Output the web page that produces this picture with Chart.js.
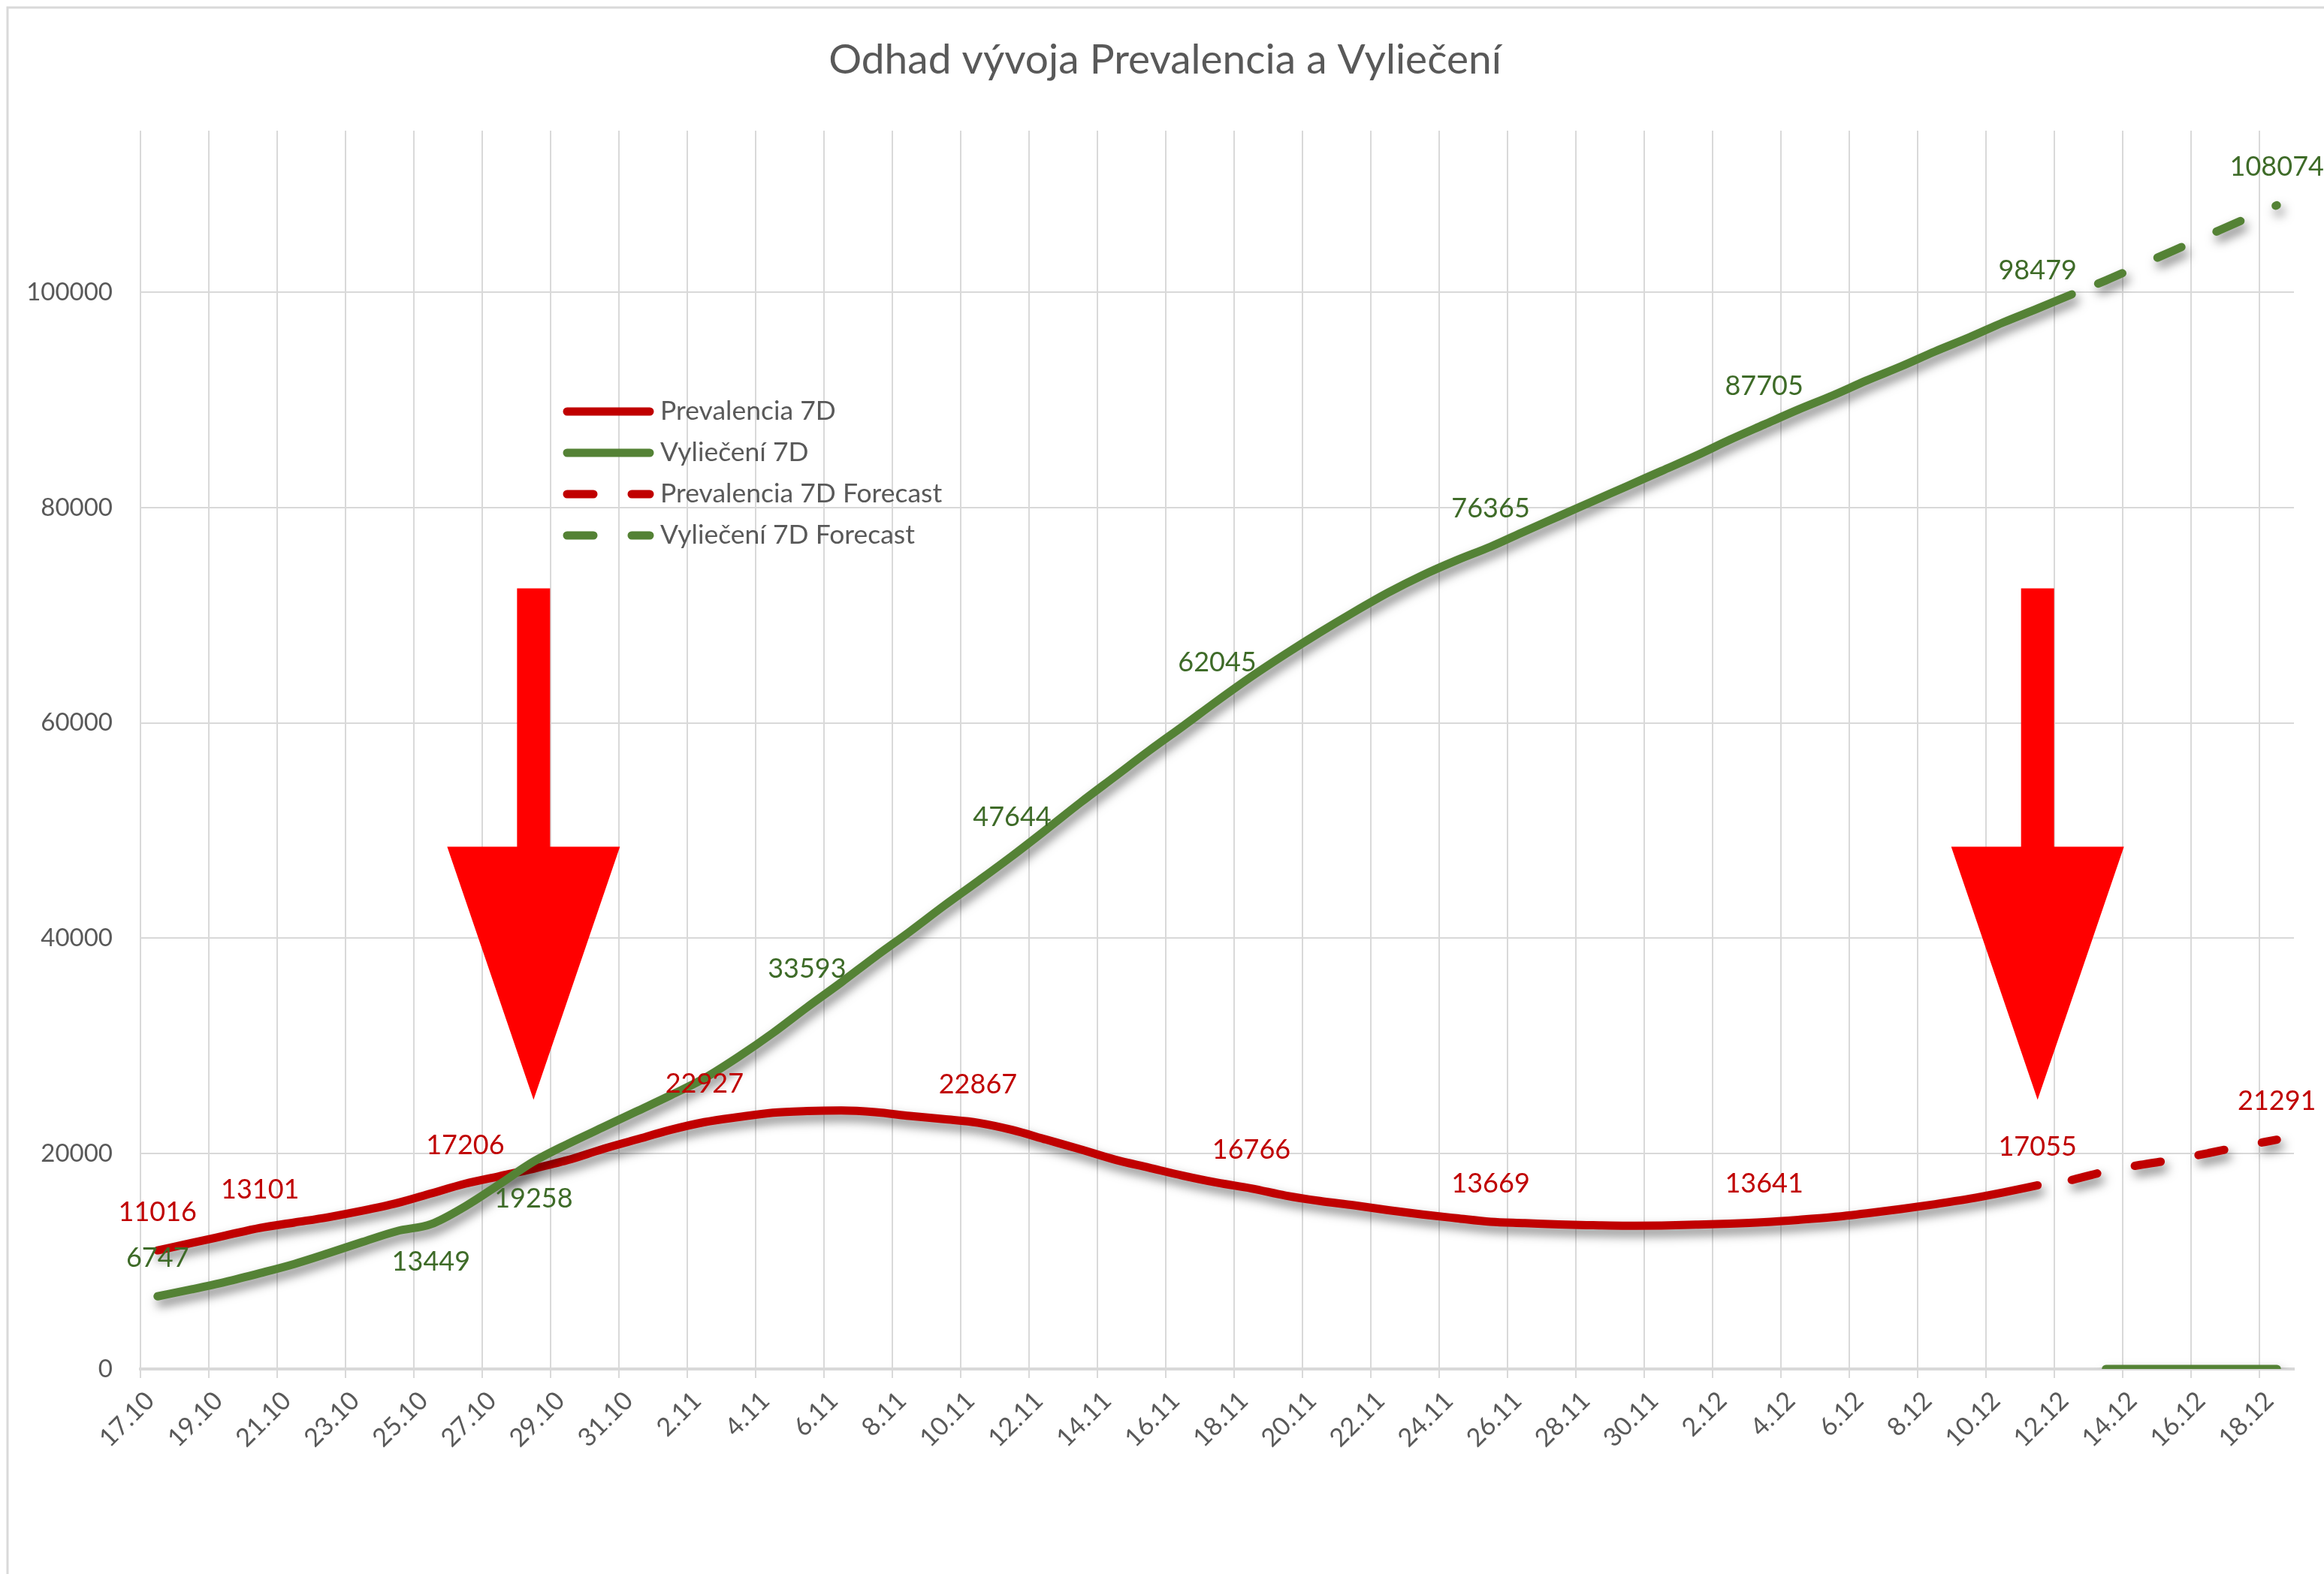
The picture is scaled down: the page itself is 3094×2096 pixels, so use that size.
<!DOCTYPE html>
<html>
<head>
<meta charset="utf-8">
<title>Odhad vývoja Prevalencia a Vyliečení</title>
<script src="https://cdn.jsdelivr.net/npm/chart.js@4.4.1/dist/chart.umd.min.js"></script>
<style>
  html, body { margin: 0; padding: 0; background: #fff; }
  #graf { display: block; }
</style>
</head>
<body>
<canvas id="graf" width="3094" height="2096"></canvas>
<script>
// dni na osi x
const dni = ['17.10','18.10','19.10','20.10','21.10','22.10','23.10','24.10','25.10','26.10','27.10','28.10','29.10','30.10','31.10',
  '1.11','2.11','3.11','4.11','5.11','6.11','7.11','8.11','9.11','10.11','11.11','12.11','13.11','14.11','15.11',
  '16.11','17.11','18.11','19.11','20.11','21.11','22.11','23.11','24.11','25.11','26.11','27.11','28.11','29.11','30.11',
  '1.12','2.12','3.12','4.12','5.12','6.12','7.12','8.12','9.12','10.12','11.12','12.12','13.12','14.12','15.12',
  '16.12','17.12','18.12'];

// Prevalencia 7D (17.10 - 11.12)
const prevalencia = [11016, 11700, 12400, 13101, 13600, 14100, 14700, 15400, 16300, 17206,
  17900, 18600, 19400, 20400, 21300, 22200, 22927, 23400, 23800, 23950,
  24000, 23850, 23500, 23200, 22867, 22200, 21300, 20400, 19450, 18700,
  17950, 17300, 16766, 16100, 15600, 15200, 14750, 14350, 14000, 13669,
  13550, 13420, 13350, 13300, 13320, 13400, 13500, 13641, 13850, 14100,
  14450, 14850, 15300, 15800, 16400, 17055];

// Vyliečení 7D (17.10 - 12.12)
const vylieceni = [6747, 7400, 8100, 8900, 9750, 10750, 11800, 12800, 13449, 15100,
  17150, 19258, 20900, 22400, 23900, 25400, 27000, 29000, 31200, 33593,
  35900, 38300, 40600, 43000, 45300, 47644, 50100, 52600, 55000, 57400,
  59700, 62045, 64300, 66400, 68400, 70300, 72100, 73700, 75100, 76365,
  77800, 79200, 80600, 82000, 83400, 84800, 86300, 87705, 89100, 90400,
  91800, 93100, 94500, 95800, 97200, 98479, 99800];
// od 13.12 su v stlpci Vyliečení nuly
const nulyOd = '13.12';
const vylieceniNuly = [0, 0, 0, 0, 0, 0];

// forecast od 12.12 do 18.12
const forecastOd = '12.12';
const prevalenciaForecast = [17550, 18350, 18950, 19450, 20050, 20700, 21291];
const vylieceniForecast = [99800, 101100, 102500, 103900, 105300, 106700, 108074];

// os y
const yTicky = [0, 20000, 40000, 60000, 80000, 100000];

// popisky hodnot
const popiskyPrevalencia = ['17.10', '20.10', '26.10', '2.11', '10.11', '18.11', '25.11', '3.12', '11.12'];
const popiskyVylieceni = ['17.10', '25.10', '28.10', '5.11', '11.11', '17.11', '25.11', '3.12', '11.12'];
const popiskyVylieceniPod = ['25.10', '28.10'];
const popiskyForecast = ['18.12'];

// sipky
const sipkyDni = ['28.10', '11.12'];

const NADPIS = 'Odhad vývoja Prevalencia a Vyliečení';
const CERVENA = '#C00000';
const ZELENA = '#548235';
const ZELENA_TEXT = '#3E6B28';
const SEDA = '#595959';
const MRIEZKA = '#D9D9D9';
const PISMO = 'Lato, "Open Sans", sans-serif';

const doDni = (arr, od) => {
  const start = od ? dni.indexOf(od) : 0;
  return dni.map((_, i) => (i >= start && i - start < arr.length) ? arr[i - start] : null);
};

// pozadie, ramik a nadpis
const ramik = {
  id: 'ramik',
  beforeDraw(chart) {
    const { ctx, width, height } = chart;
    ctx.save();
    ctx.fillStyle = '#fff';
    ctx.fillRect(0, 0, width, height);
    ctx.strokeStyle = MRIEZKA;
    ctx.lineWidth = 3;
    ctx.beginPath();
    ctx.moveTo(10, height);
    ctx.lineTo(10, 10);
    ctx.lineTo(width, 10);
    ctx.stroke();
    ctx.fillStyle = SEDA;
    ctx.font = '55px ' + PISMO;
    ctx.textAlign = 'center';
    ctx.textBaseline = 'middle';
    ctx.fillText(NADPIS, width / 2 + 4, 80);
    ctx.restore();
  }
};

// tien pod ciarami
const tien = {
  id: 'tien',
  beforeDatasetDraw(chart) {
    const ctx = chart.ctx;
    ctx.save();
    ctx.shadowColor = 'rgba(0,0,0,0.5)';
    ctx.shadowBlur = 14;
    ctx.shadowOffsetX = 4;
    ctx.shadowOffsetY = 8;
  },
  afterDatasetDraw(chart) {
    chart.ctx.restore();
  }
};

// hodnoty pri bodoch
const popisky = {
  id: 'popisky',
  afterDatasetsDraw(chart) {
    const ctx = chart.ctx;
    ctx.save();
    ctx.font = '36px ' + PISMO;
    ctx.textAlign = 'center';
    ctx.textBaseline = 'middle';
    chart.data.datasets.forEach((ds, di) => {
      if (!ds.popisky) return;
      const meta = chart.getDatasetMeta(di);
      ds.popisky.forEach(den => {
        const i = dni.indexOf(den);
        const bod = meta.data[i];
        const pod = (ds.popiskyPod || []).includes(den);
        ctx.fillStyle = ds.farbaPopisky;
        ctx.fillText(String(ds.data[i]), bod.x, bod.y + (pod ? 50 : -51));
      });
    });
    ctx.restore();
  }
};

// cervene sipky a legenda
const doplnky = {
  id: 'doplnky',
  afterDraw(chart) {
    const { ctx, chartArea } = chart;
    const x = chart.scales.x, y = chart.scales.y;
    ctx.save();
    ctx.fillStyle = '#FF0000';
    sipkyDni.forEach(den => {
      const cx = x.getPixelForValue(dni.indexOf(den));
      const hrot = y.getPixelForValue(25000);
      const zaklad = y.getPixelForValue(48500);
      const vrch = y.getPixelForValue(72500);
      ctx.beginPath();
      ctx.moveTo(cx - 22, vrch);
      ctx.lineTo(cx + 22, vrch);
      ctx.lineTo(cx + 22, zaklad);
      ctx.lineTo(cx + 115, zaklad);
      ctx.lineTo(cx, hrot);
      ctx.lineTo(cx - 115, zaklad);
      ctx.lineTo(cx - 22, zaklad);
      ctx.closePath();
      ctx.fill();
    });

    // legenda
    const x0 = chartArea.left + 568;
    let ry = chartArea.top + 374;
    ctx.font = '35.5px ' + PISMO;
    ctx.textAlign = 'left';
    ctx.textBaseline = 'middle';
    chart.data.datasets.forEach(ds => {
      if (ds.bezLegendy) return;
      ctx.strokeStyle = ds.borderColor;
      ctx.lineWidth = 11;
      ctx.lineCap = 'round';
      ctx.setLineDash(ds.borderDash || []);
      ctx.lineDashOffset = 0;
      ctx.beginPath();
      ctx.moveTo(x0, ry);
      ctx.lineTo(x0 + 110, ry);
      ctx.stroke();
      ctx.setLineDash([]);
      ctx.fillStyle = SEDA;
      ctx.fillText(ds.label, x0 + 124, ry);
      ry += 55;
    });
    ctx.restore();
  }
};

const ctx = document.getElementById('graf').getContext('2d');
new Chart(ctx, {
  type: 'line',
  data: {
    labels: dni,
    datasets: [
      {
        label: 'Prevalencia 7D',
        data: doDni(prevalencia),
        borderColor: CERVENA,
        borderWidth: 11,
        popisky: popiskyPrevalencia,
        farbaPopisky: CERVENA,
        order: 5
      },
      {
        label: 'Vyliečení 7D',
        data: doDni(vylieceni),
        borderColor: ZELENA,
        borderWidth: 11,
        popisky: popiskyVylieceni,
        popiskyPod: popiskyVylieceniPod,
        farbaPopisky: ZELENA_TEXT,
        order: 4
      },
      {
        label: 'Prevalencia 7D Forecast',
        data: doDni(prevalenciaForecast, forecastOd),
        borderColor: CERVENA,
        borderWidth: 11,
        borderDash: [35, 51],
        popisky: popiskyForecast,
        farbaPopisky: CERVENA,
        order: 3
      },
      {
        label: 'Vyliečení 7D Forecast',
        data: doDni(vylieceniForecast, forecastOd),
        borderColor: ZELENA,
        borderWidth: 11,
        borderDash: [35, 51],
        borderDashOffset: 48,
        popisky: popiskyForecast,
        farbaPopisky: ZELENA_TEXT,
        order: 2
      },
      {
        label: 'Vyliečení 7D',
        data: doDni(vylieceniNuly, nulyOd),
        borderColor: ZELENA,
        borderWidth: 11,
        bezLegendy: true,
        order: 1
      }
    ]
  },
  options: {
    responsive: false,
    animation: false,
    devicePixelRatio: 1,
    layout: { padding: { top: 174, left: 0, right: 40, bottom: 0 } },
    elements: {
      point: { radius: 0, hoverRadius: 0 },
      line: { cubicInterpolationMode: 'monotone', borderCapStyle: 'round', borderJoinStyle: 'round', fill: false }
    },
    plugins: {
      legend: { display: false },
      tooltip: { enabled: false },
      title: { display: false }
    },
    scales: {
      x: {
        offset: true,
        afterFit: s => { s.height = 273; },
        grid: {
          offset: true,
          color: c => (c.index % 2 === 0 ? MRIEZKA : 'rgba(0,0,0,0)'),
          lineWidth: 2,
          tickLength: 12
        },
        border: { color: MRIEZKA, width: 4 },
        ticks: {
          autoSkip: false,
          maxRotation: 45,
          minRotation: 45,
          labelOffset: -10,
          padding: 10,
          color: SEDA,
          font: { family: PISMO, size: 34 },
          callback: (v, i) => (i % 2 === 0 ? dni[i] : '')
        }
      },
      y: {
        min: 0,
        max: 115000,
        afterFit: s => { s.width = 187; },
        afterBuildTicks: s => { s.ticks = yTicky.map(v => ({ value: v })); },
        grid: { color: MRIEZKA, lineWidth: 2, drawTicks: false },
        border: { display: false },
        ticks: {
          padding: 37,
          color: SEDA,
          font: { family: PISMO, size: 33 },
          callback: v => String(v)
        }
      }
    }
  },
  plugins: [ramik, tien, popisky, doplnky]
});
</script>
</body>
</html>
